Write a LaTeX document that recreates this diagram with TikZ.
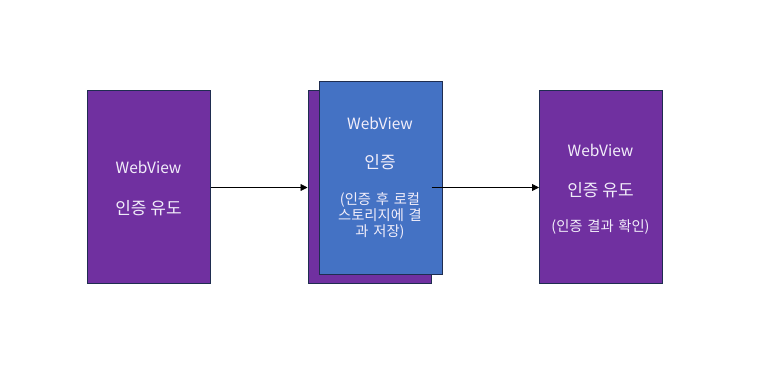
\documentclass[tikz,border=0pt]{standalone}
\usepackage{fontspec}
\setmainfont{Noto Sans CJK KR}
\usetikzlibrary{arrows.meta}
\definecolor{boxpurple}{HTML}{7030A0}
\definecolor{boxblue}{HTML}{4472C4}
\definecolor{boxedge}{HTML}{1F2D50}
\definecolor{txt}{HTML}{F2EEFA}
\tikzset{
  box/.style={draw=boxedge, line width=0.8pt, minimum width=123pt, minimum height=193pt, inner sep=0pt, anchor=north west},
  lbl/.style={text=txt, font=\fontsize{15.5}{18}\selectfont, inner sep=0pt},
  klbl/.style={text=txt, font=\fontsize{17}{20}\selectfont, inner sep=0pt},
  sml/.style={text=txt, font=\fontsize{14.3}{16}\selectfont, inner sep=0pt, align=center, text width=118pt}
}
\tikzset{conn/.style={-{Triangle[length=7pt,width=7pt]}, line width=0.8pt}}
\begin{document}
\begin{tikzpicture}[x=1pt,y=-1pt]
\useasboundingbox (0,0) rectangle (776,376);
\node[box, fill=boxpurple] (a) at (87,90) {};
\node[box, fill=boxpurple] (bback) at (307.5,90) {};
\node[box, fill=boxblue] (b) at (318.5,81) {};
\node[box, fill=boxpurple] (c) at (539,90) {};
% left texts
\node[lbl] (a1) at (148.5,167) {WebView};
\node[klbl] (a2) at (148.5,208) {인증 유도};
% middle texts
\node[lbl] (b1) at (380,123) {WebView};
\node[klbl] (b2) at (380,162) {인증};
\node[sml] (b3) at (380,216) {(인증 후 로컬\\스토리지에 결\\과 저장)};
% right texts
\node[lbl] (c1) at (600.5,150) {WebView};
\node[klbl] (c2) at (600.5,190) {인증 유도};
\node[sml] (c3) at (600.5,227) {(인증 결과 확인)};
% connectors
\coordinate (s2) at (431.5,187.5);
\draw[conn] (a.east |- 0,187.5) -- (bback.west |- 0,187.5);
\draw[conn] (s2) -- (c.west |- s2);
\end{tikzpicture}
\end{document}
